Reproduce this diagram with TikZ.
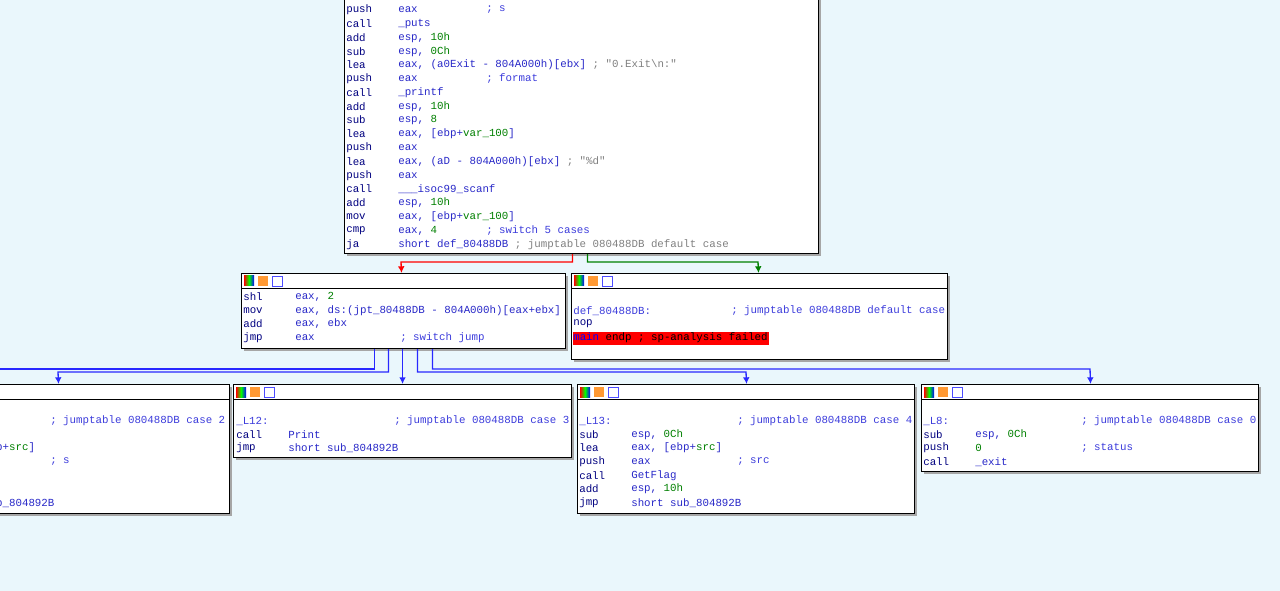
\documentclass[tikz,border=0pt]{standalone}
\usepackage{fontspec}
\setmonofont{Liberation Mono}
\usetikzlibrary{calc, shadows, arrows.meta}
\definecolor{idabg}{RGB}{234,247,252}
\definecolor{idamn}{RGB}{0,0,128}
\definecolor{idaop}{RGB}{40,40,200}
\definecolor{idanum}{RGB}{0,128,0}
\definecolor{idagray}{RGB}{128,128,128}
\definecolor{idacm}{RGB}{60,60,220}
\definecolor{idaedge}{RGB}{40,40,255}
\newcommand{\num}[1]{\textcolor{idanum}{#1}}
\newcommand{\gry}[1]{\textcolor{idagray}{#1}}
% block with header bar and three icons
\newcommand{\blk}[5]{%
  \node[blk, minimum width=#4*0.75pt, minimum height=#5*0.75pt, anchor=north west] (#1) at (#2,#3) {};
  \draw[thin] ([yshift=-11.25pt]#1.north west) -- ([yshift=-11.25pt]#1.north east);
  \shade[left color=red, right color=blue, middle color=green] ($(#1.north west)+(3,3)$) rectangle ++(10,10);
  \fill[orange!80] ($(#1.north west)+(17,3)$) rectangle ++(10,10);
  \draw[blue!70, fill=white] ($(#1.north west)+(31,3)$) rectangle ++(10,10);
}
% one asm line: x, y, mnemonic, operands
\newcommand{\asm}[4]{%
  \node[txt, text=idamn] at (#1,#2) {#3};
  \node[txt, text=idaop] at (#1+52,#2) {#4};
}
\newcommand{\cmt}[3]{\node[txt, text=idacm] at (#1,#2) {#3};}
\begin{document}
\begin{tikzpicture}[x=0.75pt, y=-0.75pt,
    blk/.style={draw=black, fill=white, line width=0.8pt, inner sep=0pt,
      drop shadow={shadow xshift=2pt, shadow yshift=-2pt, fill=gray!70, opacity=1}},
    txt/.style={anchor=west, inner sep=0pt, font=\ttfamily\fontsize{8.1}{10}\selectfont},
    edge/.style={line width=1pt, -{Latex[length=5pt,width=5pt]}}]
  \useasboundingbox (0,0) rectangle (1280,591);
  \clip (0,0) rectangle (1280,591);
  \fill[idabg] (0,0) rectangle (1280,591);

  % switch head
  \node[blk, minimum width=474*0.75pt, minimum height=263*0.75pt, anchor=north west] (top) at (344,-10) {};
  \asm{346}{10}{push}{eax}\cmt{486}{10}{; s}
  \asm{346}{24}{call}{\_puts}
  \asm{346}{38}{add}{esp, \num{10h}}
  \asm{346}{52}{sub}{esp, \num{0Ch}}
  \asm{346}{65}{lea}{eax, (a0Exit - 804A000h)[ebx] \gry{; "0.Exit\textbackslash n:"}}
  \asm{346}{79}{push}{eax}\cmt{486}{79}{; format}
  \asm{346}{93}{call}{\_printf}
  \asm{346}{107}{add}{esp, \num{10h}}
  \asm{346}{120}{sub}{esp, \num{8}}
  \asm{346}{134}{lea}{eax, [ebp+\num{var\_100}]}
  \asm{346}{148}{push}{eax}
  \asm{346}{162}{lea}{eax, (aD - 804A000h)[ebx] \gry{; "\%d"}}
  \asm{346}{176}{push}{eax}
  \asm{346}{189}{call}{\_\_\_isoc99\_scanf}
  \asm{346}{203}{add}{esp, \num{10h}}
  \asm{346}{217}{mov}{eax, [ebp+\num{var\_100}]}
  \asm{346}{231}{cmp}{eax, \num{4}}\cmt{486}{231}{; switch 5 cases}
  \asm{346}{245}{ja}{short def\_80488DB \gry{; jumptable 080488DB default case}}

  % jump table block
  \blk{sw}{241}{273}{324}{75}
  \asm{243}{297}{shl}{eax, \num{2}}
  \asm{243}{311}{mov}{eax, ds:(jpt\_80488DB - 804A000h)[eax+ebx]}
  \asm{243}{324}{add}{eax, ebx}
  \asm{243}{338}{jmp}{eax}\cmt{400}{338}{; switch jump}

  % default case
  \blk{dflt}{571}{273}{376}{86}
  \cmt{573}{311}{def\_80488DB:}\cmt{731}{311}{; jumptable 080488DB default case}
  \node[txt, text=idamn] at (573,324) {nop};
  \fill[red] (573,332) rectangle (769,345);
  \node[txt] at (573,338) {\textcolor{blue}{main} endp ; sp-analysis failed};

  % cases
  \blk{cb}{-120}{384}{349}{129}
  \cmt{-108}{421}{\_L11:}\cmt{50}{421}{; jumptable 080488DB case 2}
  \asm{-108}{448}{lea}{eax, [ebp+\num{src}]}
  \asm{-108}{462}{push}{eax}\cmt{50}{462}{; s}
  \asm{-108}{503}{jmp}{short sub\_804892B}

  \blk{cc}{233}{384}{338}{73}
  \cmt{236}{421}{\_L12:}\cmt{394}{421}{; jumptable 080488DB case 3}
  \asm{236}{435}{call}{Print}
  \asm{236}{448}{jmp}{short sub\_804892B}

  \blk{cd}{577}{384}{337}{129}
  \cmt{579}{421}{\_L13:}\cmt{737}{421}{; jumptable 080488DB case 4}
  \asm{579}{435}{sub}{esp, \num{0Ch}}
  \asm{579}{448}{lea}{eax, [ebp+\num{src}]}
  \asm{579}{462}{push}{eax}\cmt{737}{462}{; src}
  \asm{579}{476}{call}{GetFlag}
  \asm{579}{489}{add}{esp, \num{10h}}
  \asm{579}{503}{jmp}{short sub\_804892B}

  \blk{ca}{921}{384}{337}{87}
  \cmt{923}{421}{\_L8:}\cmt{1081}{421}{; jumptable 080488DB case 0}
  \asm{923}{435}{sub}{esp, \num{0Ch}}
  \asm{923}{448}{push}{\num{0}}\cmt{1081}{448}{; status}
  \asm{923}{462}{call}{\_exit}

  % edges
  \draw[edge, red] ($(top.south)+(-9,0)$) |- (401,262) -- ($(sw.north)+(-2,0)$);
  \draw[edge, green!50!black] ($(top.south)+(6,0)$) |- (758,262) -- ($(dflt.north)+(-1,0)$);
  \draw[line width=1pt, idaedge] ($(sw.south)+(-29,0)$) |- (0,369);
  \draw[edge, idaedge] ($(sw.south)+(-15,0)$) |- (58,372) -- ($(cb.north)+(3.5,0)$);
  \draw[edge, idaedge] ($(sw.south)+(-1,0)$) -- (cc.north);
  \draw[edge, idaedge] ($(sw.south)+(14,0)$) |- (746,372) -- ($(cd.north)+(0.5,0)$);
  \draw[edge, idaedge] ($(sw.south)+(29,0)$) |- (1090,369) -- ($(ca.north)+(0.5,0)$);
\end{tikzpicture}
\end{document}
